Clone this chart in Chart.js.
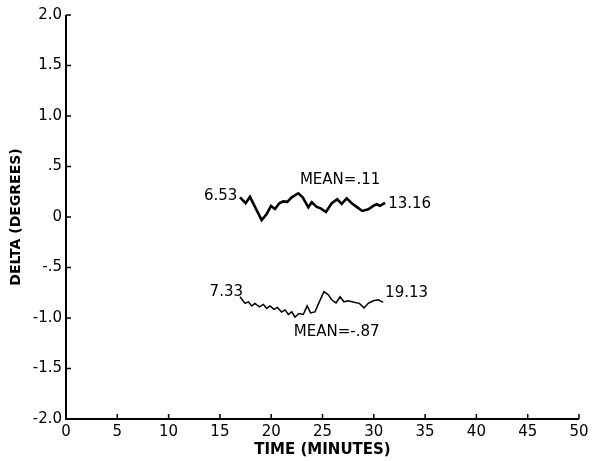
<!DOCTYPE html>
<html>
<head>
<meta charset="utf-8">
<script src="https://cdn.jsdelivr.net/npm/chart.js@4/dist/chart.umd.min.js"></script>
<style>
html,body{margin:0;padding:0;background:#fff;}
#wrap{width:594px;height:461px;}
</style>
</head>
<body>
<div id="wrap"><canvas id="c" width="594" height="461"></canvas></div>
<script>
// ---- data ----
const upperTime = [16.96,17.51,17.93,19.07,19.56,19.98,20.37,20.79,21.18,21.57,22.0,22.64,23.07,23.62,23.95,24.43,24.82,25.34,25.9,26.44,26.87,27.36,27.85,28.33,28.88,29.46,29.95,30.28,30.6,31.1];
const upperDelta = [0.195,0.136,0.20,-0.03,0.03,0.11,0.08,0.136,0.155,0.15,0.195,0.235,0.195,0.096,0.146,0.10,0.086,0.05,0.136,0.175,0.13,0.185,0.136,0.10,0.06,0.076,0.11,0.126,0.11,0.14];
const lowerTime = [16.96,17.45,17.78,18.1,18.42,18.85,19.24,19.56,19.88,20.27,20.6,21.02,21.35,21.67,22.0,22.32,22.71,23.13,23.5,23.84,24.26,24.69,25.14,25.57,25.9,26.32,26.71,27.1,27.51,28.07,28.59,29.05,29.46,29.95,30.44,30.92];
const lowerDelta = [-0.79,-0.855,-0.84,-0.88,-0.855,-0.89,-0.865,-0.905,-0.88,-0.915,-0.895,-0.94,-0.92,-0.965,-0.94,-0.99,-0.955,-0.965,-0.88,-0.95,-0.94,-0.84,-0.74,-0.77,-0.82,-0.85,-0.79,-0.84,-0.83,-0.845,-0.855,-0.9,-0.855,-0.83,-0.82,-0.845];
const xTickValues = [0,5,10,15,20,25,30,35,40,45,50];
const yTickValues = [-2,-1.5,-1,-0.5,0,0.5,1,1.5,2];
const yTickLabels = ["-2.0","-1.5","-1.0","-.5","0",".5","1.0","1.5","2.0"];
const noteTexts = ["6.53","MEAN=.11","13.16","7.33","19.13","MEAN=-.87"];
const noteX = [16.7,22.8,31.4,17.25,31.1,22.2];
const noteY = [0.21,0.37,0.13,-0.74,-0.755,-1.135];
const noteAlign = ["right","left","left","right","left","left"];

const FONT = "'DejaVu Sans', sans-serif";

const toPts = (xs, ys) => xs.map((x,i)=>({x:x,y:ys[i]}));

const innerTicks = {
  id:'innerTicks',
  afterDraw(chart){
    const {ctx, chartArea:a, scales:{x,y}} = chart;
    ctx.save();
    ctx.strokeStyle='#000';
    ctx.lineWidth=2;
    ctx.beginPath();
    ctx.moveTo(a.left, a.top); ctx.lineTo(a.left, a.bottom); ctx.lineTo(a.right, a.bottom);
    ctx.stroke();
    ctx.lineWidth=1.5;
    ctx.beginPath();
    xTickValues.forEach(v=>{const px=x.getPixelForValue(v); if(v>0){ctx.moveTo(px,a.bottom); ctx.lineTo(px,a.bottom-5);} });
    yTickValues.forEach(v=>{const py=y.getPixelForValue(v); if(v>-2){ctx.moveTo(a.left,py); ctx.lineTo(a.left+5,py);} });
    ctx.stroke();
    ctx.fillStyle='#000';
    ctx.font = "15px " + FONT;
    ctx.textBaseline='middle';
    noteTexts.forEach((t,i)=>{
      ctx.textAlign = noteAlign[i];
      ctx.fillText(t, x.getPixelForValue(noteX[i]), y.getPixelForValue(noteY[i]));
    });
    ctx.restore();
  }
};

new Chart(document.getElementById('c'), {
  type:'scatter',
  data:{
    datasets:[
      {data: toPts(upperTime, upperDelta), showLine:true, borderColor:'#000', borderWidth:2.6, pointRadius:0, tension:0, fill:false},
      {data: toPts(lowerTime, lowerDelta), showLine:true, borderColor:'#000', borderWidth:1.5, pointRadius:0, tension:0, fill:false}
    ]
  },
  options:{
    responsive:false,
    animation:false,
    devicePixelRatio:1,
    layout:{padding:{top:15,right:15,left:0,bottom:0}},
    plugins:{legend:{display:false}, tooltip:{enabled:false}},
    scales:{
      x:{
        type:'linear', min:0, max:50,
        afterBuildTicks(s){ s.ticks = xTickValues.map(v=>({value:v})); },
        afterFit(s){ s.height = 42; },
        border:{display:false},
        grid:{display:false, drawTicks:false},
        ticks:{color:'#000', font:{family:FONT, size:15}, padding:4, maxRotation:0, autoSkip:false, callback:(v)=>String(v)},
        title:{display:true, text:'TIME (MINUTES)', color:'#000', font:{family:FONT, size:15, weight:'bold'}, padding:{top:0,bottom:2}}
      },
      y:{
        type:'linear', min:-2, max:2,
        afterBuildTicks(s){ s.ticks = yTickValues.map(v=>({value:v})); },
        afterFit(s){ s.width = 66; },
        border:{display:false},
        grid:{display:false, drawTicks:false},
        ticks:{color:'#000', font:{family:FONT, size:15}, padding:4, autoSkip:false, callback:(v)=>{const i=yTickValues.indexOf(v); return i>=0?yTickLabels[i]:'';}},
        title:{display:true, text:'DELTA (DEGREES)', color:'#000', font:{family:FONT, size:14, weight:'bold'}, padding:{top:8,bottom:4}}
      }
    }
  },
  plugins:[innerTicks]
});
</script>
</body>
</html>
